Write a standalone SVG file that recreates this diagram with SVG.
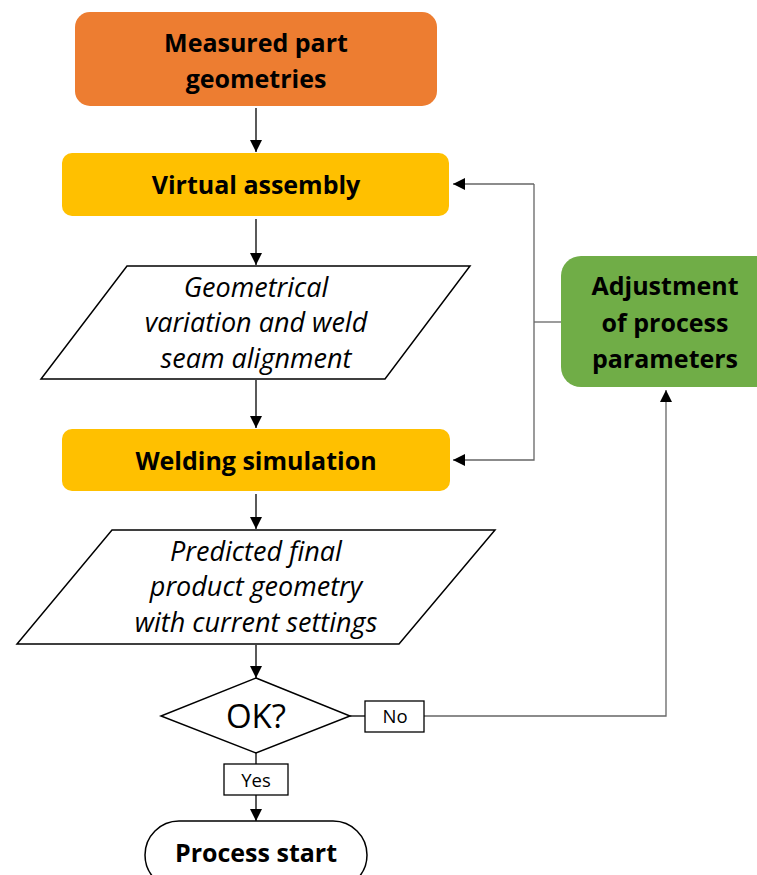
<svg xmlns="http://www.w3.org/2000/svg" width="757" height="875" viewBox="0 0 757 875">
<style>
.b{font-family:"Open Sans","Liberation Sans",sans-serif;font-weight:bold;font-size:25px;fill:#000;text-anchor:middle}
.i{font-family:"Open Sans","Liberation Sans",sans-serif;font-style:italic;font-size:27px;fill:#000;text-anchor:middle}
.r{font-family:"Open Sans","Liberation Sans",sans-serif;font-size:18.5px;fill:#000;text-anchor:middle}
.ln{fill:none;stroke:#000;stroke-width:1.3}
.fb{fill:none;stroke:#666;stroke-width:1.3}
.sh{fill:#fff;stroke:#000;stroke-width:1.5}
</style>
<defs>
<marker id="ah" markerUnits="userSpaceOnUse" markerWidth="14" markerHeight="14" refX="12" refY="6" orient="auto">
<path d="M0,0 L12,6 L0,12 Z" fill="#000"/>
</marker>
</defs>
<g id="connectors">
<line class="ln" x1="256" y1="108" x2="256" y2="152" marker-end="url(#ah)"/>
<line class="ln" x1="256" y1="219" x2="256" y2="265" marker-end="url(#ah)"/>
<line class="ln" x1="256" y1="380" x2="256" y2="428" marker-end="url(#ah)"/>
<line class="ln" x1="256" y1="494" x2="256" y2="529" marker-end="url(#ah)"/>
<line class="ln" x1="256" y1="645" x2="256" y2="678" marker-end="url(#ah)"/>
<line class="ln" x1="256" y1="753" x2="256" y2="764"/>
<line class="ln" x1="256" y1="795" x2="256" y2="821" marker-end="url(#ah)"/>
<line class="ln" x1="350" y1="716" x2="365" y2="716"/>
<polyline class="fb" points="424,716 666,716 666,390" marker-end="url(#ah)"/>
<polyline class="fb" points="534,184 453,184" marker-end="url(#ah)"/>
<polyline class="fb" points="534,184 534,460 453,460" marker-end="url(#ah)"/>
<line class="fb" x1="534" y1="322" x2="561" y2="322"/>
</g>
<g id="measured">
<rect x="75" y="12" width="362" height="94" rx="15" fill="#ED7D31"/>
<text class="b" x="256" y="52">Measured part</text>
<text class="b" x="256" y="88">geometries</text>
</g>
<g id="virtual-assembly">
<rect x="62" y="153" width="387" height="63" rx="10" fill="#FFC000"/>
<text class="b" x="256" y="194">Virtual assembly</text>
</g>
<g id="variation">
<polygon class="sh" points="127,266 470,266 385,379 41,379"/>
<text class="i" x="256" y="297">Geometrical</text>
<text class="i" x="256" y="332">variation and weld</text>
<text class="i" x="256" y="368">seam alignment</text>
</g>
<g id="welding-simulation">
<rect x="62" y="429" width="388" height="62" rx="10" fill="#FFC000"/>
<text class="b" x="256" y="470">Welding simulation</text>
</g>
<g id="predicted">
<polygon class="sh" points="112,530 495,530 399,644 17,644"/>
<text class="i" x="256" y="561">Predicted final</text>
<text class="i" x="256" y="596">product geometry</text>
<text class="i" x="256" y="632">with current settings</text>
</g>
<g id="ok">
<polygon class="sh" points="256,678 350,716 256,753 161,716"/>
<text class="r" x="256" y="728" style="font-size:33px">OK?</text>
</g>
<g id="no-label">
<rect x="365" y="701" width="59" height="31" fill="#fff" stroke="#000" stroke-width="1.3"/>
<text class="r" x="395" y="723">No</text>
</g>
<g id="yes-label">
<rect x="224" y="764" width="64" height="31" fill="#fff" stroke="#000" stroke-width="1.3"/>
<text class="r" x="256" y="787">Yes</text>
</g>
<g id="process-start">
<rect class="sh" x="145" y="821" width="222" height="68" rx="34"/>
<text class="b" x="256" y="862">Process start</text>
</g>
<g id="adjustment">
<rect x="561" y="256" width="215" height="131" rx="20" fill="#70AD47"/>
<text class="b" x="665" y="295">Adjustment</text>
<text class="b" x="665" y="332">of process</text>
<text class="b" x="665" y="368">parameters</text>
</g>
</svg>
